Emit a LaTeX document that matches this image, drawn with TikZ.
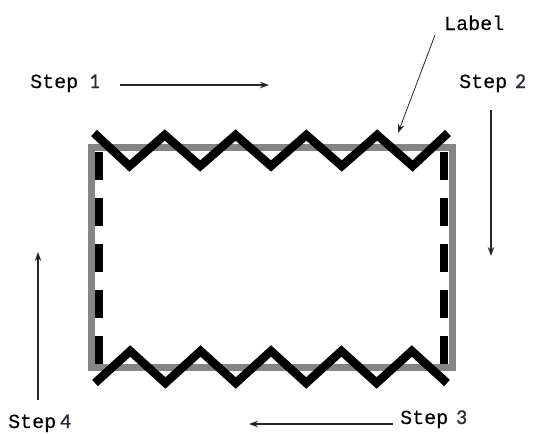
\documentclass[tikz,border=0pt]{standalone}
\usepackage{fontspec}
\usetikzlibrary{arrows.meta}
\newfontfamily\monof[FakeBold=0.25]{Liberation Mono}
\newfontfamily\digf[FakeBold=0.9]{Carlito}
\definecolor{rimgray}{HTML}{858585}
\definecolor{digcol}{HTML}{2A2A3A}
\newcommand{\dg}[1]{{\digf\fontsize{21}{23}\selectfont\color{digcol}#1}}
\begin{document}
\begin{tikzpicture}[x=1pt,y=-1pt,
  graybox/.style={draw=rimgray, line width=7pt},
  dashside/.style={draw=black, line width=8pt, dash pattern=on 28pt off 18pt},
  zig/.style={draw=black, line width=8.5pt, line join=miter},
  steparrow/.style={draw=black!85, line width=1.1pt, -{Stealth[length=9pt,width=6.5pt]}},
  txt/.style={inner sep=0pt, anchor=base west, font=\monof\fontsize{20}{22}\selectfont}]
\useasboundingbox (0,0) rectangle (536,434);
\fill[white] (0,0) rectangle (536,434);

% grey frame
\draw[graybox] (91.5,147) rectangle (452,367.5);

% dashed sides
\draw[dashside] (99,152) -- (99,364);
\draw[dashside] (444,152) -- (444,364);

% zigzag top
\draw[zig] (94,133) -- (129.4,166) -- (164.8,135) -- (200.2,166) -- (235.6,135)
  -- (271,166) -- (306.4,135) -- (341.8,166) -- (377.2,135) -- (412.6,166) -- (448,133);
% zigzag bottom
\draw[zig] (95,383) -- (130.2,351) -- (165.4,383) -- (200.6,351) -- (235.8,383)
  -- (271,351) -- (306.2,383) -- (341.4,351) -- (376.6,383) -- (411.8,351) -- (447,383);

% texts
\node[txt] (lbl) at (444,30) {Label};
\node[txt] (s1) at (30,88) {Step\hspace{11pt}\dg{1}};
\node[txt] (s2) at (459,88) {Step\hspace{8pt}\dg{2}};
\node[txt] (s3) at (400,424) {Step\hspace{8pt}\dg{3}};
\node[txt] (s4) at (8,428) {Step\hspace{4pt}\dg{4}};

% arrows
\coordinate (a1s) at (120,85);  \coordinate (a1e) at (269,85);
\coordinate (a2s) at (491,110); \coordinate (a2e) at (491,256);
\coordinate (a3s) at (393,424); \coordinate (a3e) at (249,424);
\coordinate (a4s) at (38,400);  \coordinate (a4e) at (38,252);
\coordinate (las) at (435,35);  \coordinate (lae) at (398,133);
\draw[steparrow] (a1s) -- (a1e);
\draw[steparrow] (a2s) -- (a2e);
\draw[steparrow] (a3s) -- (a3e);
\draw[steparrow] (a4s) -- (a4e);
\draw[steparrow, line width=0.8pt] (las) -- (lae);
\end{tikzpicture}
\end{document}
